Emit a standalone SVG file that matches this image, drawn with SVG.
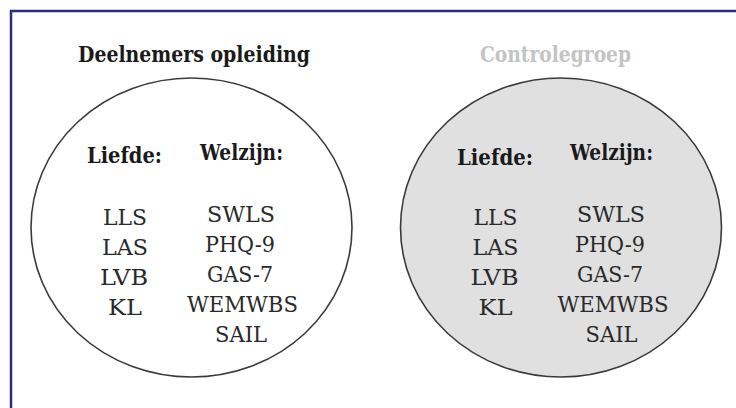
<svg xmlns="http://www.w3.org/2000/svg" width="736" height="408" viewBox="0 0 736 408">
<style>
.frame{fill:none;stroke:#2d2b7c;stroke-width:2.5}
.circ{stroke:#3a3a3a;stroke-width:1.6}
text{font-family:'DejaVu Serif',serif;font-size:22px;text-anchor:middle}
.title{font-weight:bold;font-size:23px}
.head{font-weight:bold;fill:#1a1a1a}
.item{fill:#2a2a2a}
</style>
<rect width="736" height="408" fill="#ffffff"/>
<path class="frame" d="M11 408 V11 H736"/>
<g id="connectors"/>
<g id="deelnemers">
<text class="title" x="194" y="62" fill="#1a1a1a" textLength="232" lengthAdjust="spacingAndGlyphs">Deelnemers opleiding</text>
<ellipse class="circ" cx="191.5" cy="227.5" rx="160.5" ry="149.5" fill="#ffffff"/>
<text class="head" x="124.5" y="163" textLength="75" lengthAdjust="spacingAndGlyphs">Liefde:</text>
<text class="head" x="241.5" y="160" textLength="83" lengthAdjust="spacingAndGlyphs">Welzijn:</text>
<text class="item" x="125" y="225" textLength="44" lengthAdjust="spacingAndGlyphs">LLS</text>
<text class="item" x="125" y="255" textLength="46" lengthAdjust="spacingAndGlyphs">LAS</text>
<text class="item" x="124" y="285" textLength="48" lengthAdjust="spacingAndGlyphs">LVB</text>
<text class="item" x="125" y="315" textLength="34" lengthAdjust="spacingAndGlyphs">KL</text>
<text class="item" x="241" y="222" textLength="68" lengthAdjust="spacingAndGlyphs">SWLS</text>
<text class="item" x="240" y="252" textLength="70" lengthAdjust="spacingAndGlyphs">PHQ-9</text>
<text class="item" x="240" y="282" textLength="66" lengthAdjust="spacingAndGlyphs">GAS-7</text>
<text class="item" x="242.5" y="312" textLength="111" lengthAdjust="spacingAndGlyphs">WEMWBS</text>
<text class="item" x="241" y="342" textLength="52" lengthAdjust="spacingAndGlyphs">SAIL</text>
</g>
<g id="controlegroep">
<text class="title" x="555.5" y="62" fill="#c4c4c4" textLength="151" lengthAdjust="spacingAndGlyphs">Controlegroep</text>
<ellipse class="circ" cx="561" cy="227.5" rx="160.5" ry="149.5" fill="#e0e0e0"/>
<text class="head" x="495" y="165" textLength="76" lengthAdjust="spacingAndGlyphs">Liefde:</text>
<text class="head" x="611.5" y="160" textLength="83" lengthAdjust="spacingAndGlyphs">Welzijn:</text>
<text class="item" x="495.5" y="225" textLength="44" lengthAdjust="spacingAndGlyphs">LLS</text>
<text class="item" x="495.5" y="255" textLength="46" lengthAdjust="spacingAndGlyphs">LAS</text>
<text class="item" x="494.5" y="285" textLength="48" lengthAdjust="spacingAndGlyphs">LVB</text>
<text class="item" x="495.5" y="315" textLength="34" lengthAdjust="spacingAndGlyphs">KL</text>
<text class="item" x="611" y="222" textLength="68" lengthAdjust="spacingAndGlyphs">SWLS</text>
<text class="item" x="610" y="252" textLength="70" lengthAdjust="spacingAndGlyphs">PHQ-9</text>
<text class="item" x="610" y="282" textLength="66" lengthAdjust="spacingAndGlyphs">GAS-7</text>
<text class="item" x="613" y="312" textLength="111" lengthAdjust="spacingAndGlyphs">WEMWBS</text>
<text class="item" x="611.5" y="342" textLength="52" lengthAdjust="spacingAndGlyphs">SAIL</text>
</g>
</svg>
